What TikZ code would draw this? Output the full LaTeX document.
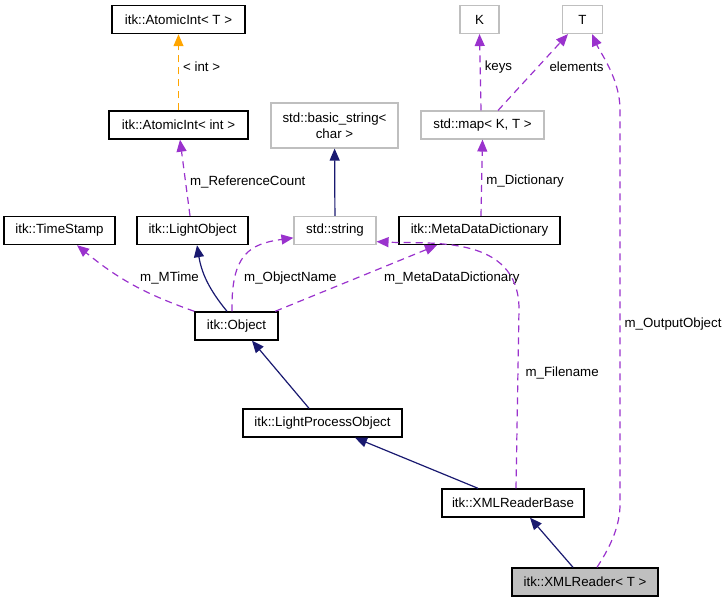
\documentclass[tikz,border=0pt]{standalone}
\usepackage{fontspec}
\setmainfont{Liberation Sans}
\usepackage{xcolor}
\definecolor{cInherit}{HTML}{191970}
\definecolor{cMember}{HTML}{9A32CD}
\definecolor{cTmpl}{HTML}{FFA500}
\definecolor{cGray}{HTML}{BFBFBF}
\usepackage{tikz}
\usetikzlibrary{arrows.meta}
\tikzset{
  node-class/.style={draw=black,line width=1.4pt,minimum height=28pt,
    inner sep=0pt,align=center,font=\fontsize{13.3}{16}\selectfont},
  node-ext/.style={node-class,draw=cGray,line width=1.1pt},
  node-self/.style={node-class,fill=cGray},
  % 继承用实线，成员 / 模板参数用虚线
  arrow-inherit/.style={-{Triangle[length=12pt,width=10pt]},line width=1.2pt,draw=cInherit},
  arrow-member/.style={-{Triangle[length=12pt,width=10pt]},line width=1.2pt,
    dash pattern=on 7pt off 5pt,draw=cMember},
  arrow-tmpl/.style={-{Triangle[length=12pt,width=10pt]},line width=1.2pt,
    dash pattern=on 7pt off 5pt,draw=cTmpl},
  edge-label/.style={font=\fontsize{13.3}{16}\selectfont,inner sep=2pt,
    anchor=west,xshift=2pt},
}
\begin{document}
\begin{tikzpicture}[x=1pt,y=1pt]
  \useasboundingbox (0,0) rectangle (727,-603);
  % 类框
  \node[node-class,minimum width=133pt] (atomT)      at (178.5,-19.5) {itk::AtomicInt< T >};
  \node[node-class,minimum width=139pt] (atomInt)    at (178.5,-125)  {itk::AtomicInt< int >};
  \node[node-ext,minimum width=127pt,minimum height=45pt] (basicStr) at (334.5,-125.5) {std::basic\_string<\\char >};
  \node[node-ext,minimum width=39pt]    (keyK)       at (479.5,-19.5) {K};
  \node[node-ext,minimum width=40pt]    (valT)       at (582.5,-19.5) {T};
  \node[node-ext,minimum width=123pt]   (stdMap)     at (482.5,-125)  {std::map< K, T >};
  \node[node-class,minimum width=111pt] (timeStamp)  at (59.5,-230.5) {itk::TimeStamp};
  \node[node-class,minimum width=111pt] (lightObj)   at (192.5,-230.5) {itk::LightObject};
  \node[node-ext,minimum width=82pt]    (stdStr)     at (335,-230.5)  {std::string};
  \node[node-class,minimum width=161pt] (metaDict)   at (479.5,-230.5) {itk::MetaDataDictionary};
  \node[node-class,minimum width=83pt]  (itkObj)     at (236.5,-326)  {itk::Object};
  \node[node-class,minimum width=159pt] (lightProc)  at (322.5,-423)  {itk::LightProcessObject};
  \node[node-class,minimum width=142pt] (readerBase) at (513,-503)    {itk::XMLReaderBase};
  \node[node-self,minimum width=146pt]  (xmlReader)  at (585,-582)    {itk::XMLReader< T >};

  % 上半部分
  \draw[arrow-tmpl] (atomInt) -- node[edge-label,pos=0.57] (lblInt) {< int >} (atomT);
  \draw[arrow-member] ([xshift=-2.5pt]lightObj.north) -- node[edge-label,pos=0.45] (lblRef) {m\_ReferenceCount} ([xshift=1.5pt]atomInt.south);
  \draw[arrow-inherit] (stdStr) -- (basicStr);
  \draw[arrow-member] ([xshift=-1.5pt]stdMap.north) -- node[edge-label,pos=0.57] (lblKeys) {keys} (keyK.south);
  \draw[arrow-member] ([xshift=15.5pt]stdMap.north) -- node[edge-label,pos=0.57,xshift=7pt] (lblElem) {elements} ([xshift=-14.5pt]valT.south);
  \draw[arrow-member] ([xshift=1.5pt]metaDict.north) -- node[edge-label,pos=0.45] (lblDict) {m\_Dictionary} (stdMap.south);

  % itk::Object 的成员
  \draw[arrow-member] (itkObj.north west) to[bend left=10] ([xshift=17.5pt]timeStamp.south);
  \node[edge-label] (lblTime) at (136,-278) {m\_MTime};
  \draw[arrow-inherit] ([xshift=-9.5pt]itkObj.north) to[bend left=15] ([xshift=4.5pt]lightObj.south);
  \draw[arrow-member] ([xshift=-4.5pt]itkObj.north) .. controls +(-1,57) and +(-44,-6) .. (stdStr.190);
  \node[edge-label] (lblName) at (240,-278) {m\_ObjectName};
  \draw[arrow-member] ([xshift=-3.5pt]itkObj.north east) -- ([xshift=-42.5pt]metaDict.south);
  \node[edge-label] (lblMeta) at (380,-278) {m\_MetaDataDictionary};

  % 继承链
  \draw[arrow-inherit] ([xshift=-13.5pt]lightProc.north) -- ([xshift=15.5pt]itkObj.south);
  \draw[arrow-inherit] ([xshift=-35pt]readerBase.north) -- ([xshift=32.5pt]lightProc.south);
  \draw[arrow-inherit] ([xshift=-12pt]xmlReader.north) -- ([xshift=17pt]readerBase.south);

  % 长的成员边
  \draw[arrow-member] ([xshift=3pt]readerBase.north) -- node[edge-label,pos=0.64,xshift=3pt] (lblFile) {m\_Filename} ++(3,180)
    .. controls +(-1,74) and +(54,-2.5) .. (stdStr.-15);
  \draw[arrow-member] ([xshift=12pt]xmlReader.north) .. controls +(15,23) and +(0,-20) .. ++(23,63)
    -- node[edge-label,pos=0.456] (lblOut) {m\_OutputObject} ++(0,395)
    .. controls +(0,30) and +(8,-18) .. ([xshift=9.5pt]valT.south);
\end{tikzpicture}
\end{document}
